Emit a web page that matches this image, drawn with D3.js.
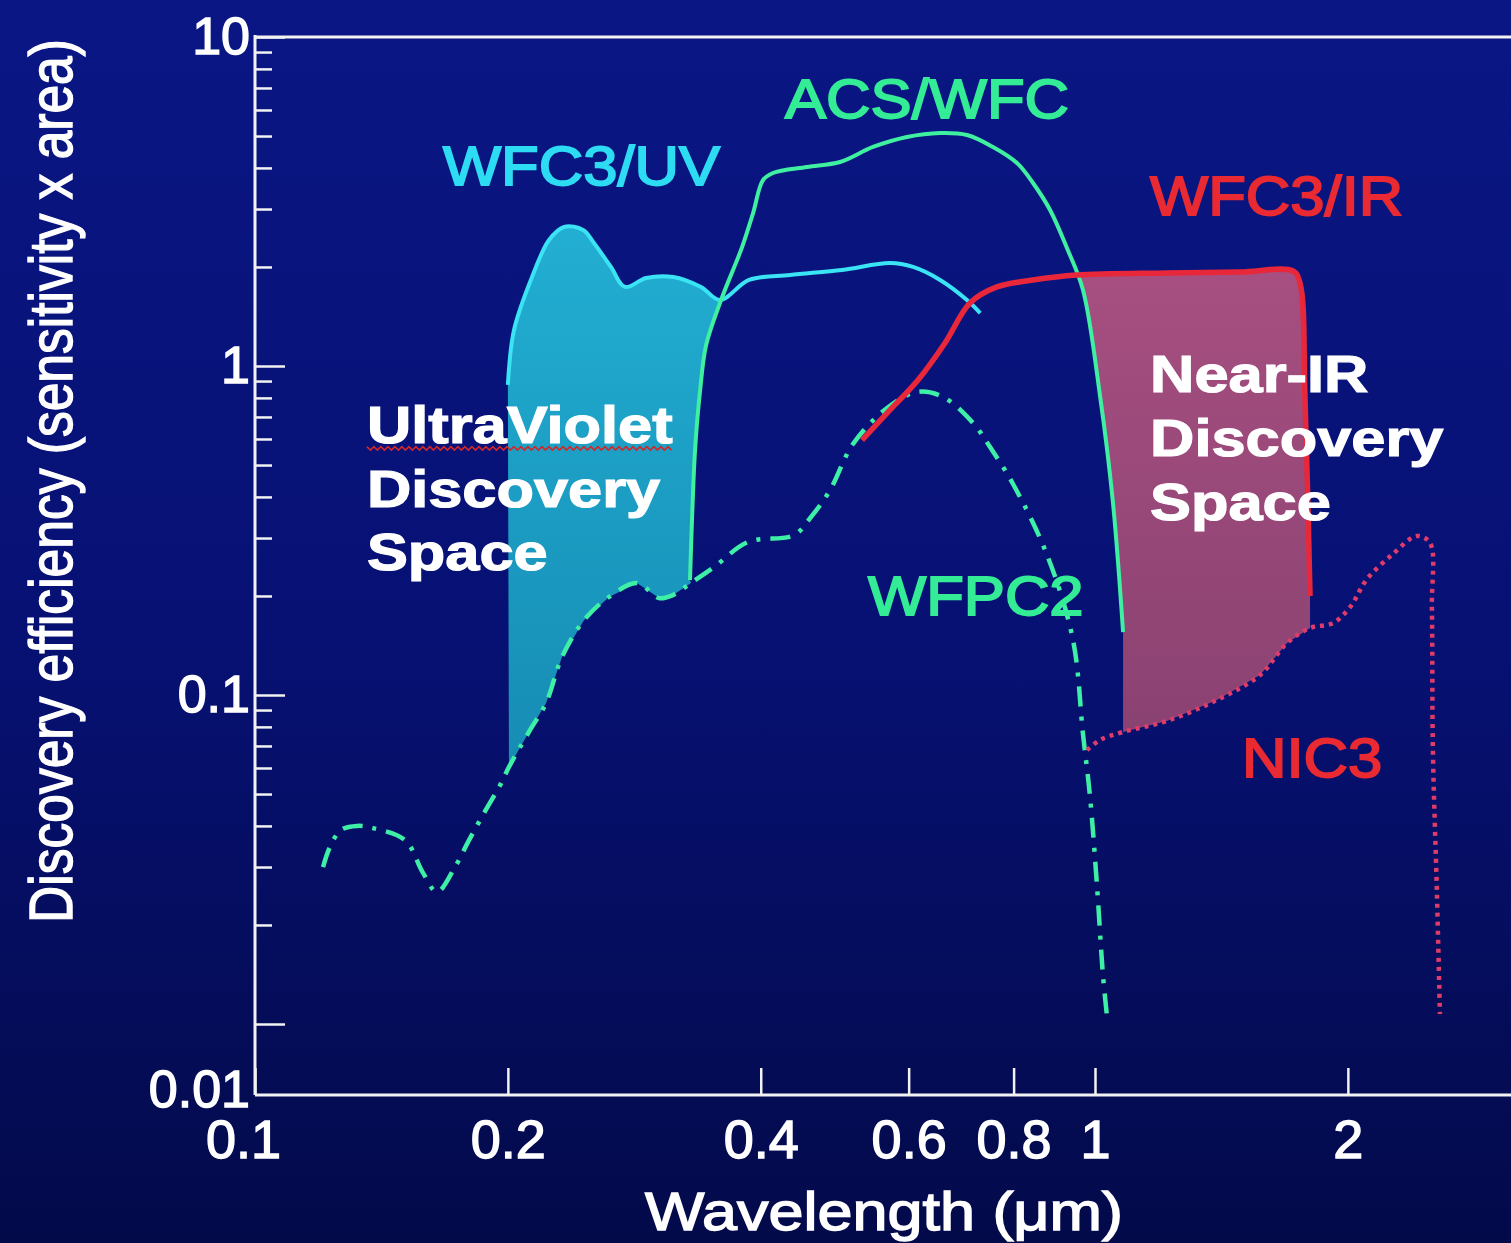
<!DOCTYPE html>
<html>
<head>
<meta charset="utf-8">
<script src="https://cdn.jsdelivr.net/npm/d3@7"></script>
<style>
html,body{margin:0;padding:0;background:#061070;}
svg{display:block;}
</style>
</head>
<body>
<svg id="chart"></svg>
<script>
// data: [wavelength (um), discovery efficiency]
const wfc3uv = [[0.200,0.876],[0.2034,1.286],[0.2137,1.865],[0.2239,2.415],[0.2333,2.646],[0.2458,2.591],
  [0.2532,2.365],[0.2653,2.0],[0.2757,1.739],[0.2922,1.851],[0.3146,1.865],[0.3396,1.739],[0.3578,1.587],
  [0.3874,1.826],[0.4335,1.891],[0.4998,1.958],[0.570,2.056],[0.6073,2.0],[0.654,1.826],[0.704,1.587],[0.730,1.449]];

const acswfc = [[0.3295,0.2236],[0.3313,0.340],[0.3341,0.5555],[0.3388,0.8455],[0.3444,1.158],[0.3588,1.587],
  [0.3801,2.30],[0.3917,2.917],[0.4026,3.675],[0.4137,3.861],[0.4541,4.025],[0.4971,4.169],[0.5441,4.631],
  [0.5972,4.966],[0.654,5.107],[0.704,5.036],[0.756,4.631],[0.8074,4.14],[0.8437,3.6],[0.8841,2.98],
  [0.926,2.284],[0.9676,1.702],[1.014,0.810],[1.05,0.3888],[1.08,0.1554]];

const wfc3ir = [[0.528,0.5956],[0.5655,0.7195],[0.6156,0.9066],[0.6629,1.175],[0.7099,1.554],[0.7641,1.739],
  [0.8437,1.826],[0.9519,1.891],[1.218,1.918],[1.488,1.931],[1.721,1.944],[1.754,1.788],[1.778,0.810],[1.803,0.2]];

const wfpc2 = [[0.1205,0.030],[0.1228,0.0345],[0.1266,0.0389],[0.1323,0.040],[0.1382,0.0394],[0.1509,0.0362],
  [0.1585,0.0288],[0.1647,0.0252],[0.1730,0.030],[0.1798,0.0362],[0.1874,0.0438],[0.1958,0.0532],[0.2006,0.0604],
  [0.2125,0.0782],[0.2221,0.0946],[0.232,0.1305],[0.2465,0.169],[0.2639,0.1986],[0.285,0.219],[0.3027,0.197],
  [0.3146,0.2014],[0.3304,0.219],[0.352,0.245],[0.3863,0.2917],[0.4383,0.3064],[0.4591,0.3476],[0.4838,0.42],
  [0.5151,0.5792],[0.5655,0.7454],[0.614,0.8337],[0.6594,0.805],[0.7158,0.671],[0.75,0.567],[0.7988,0.4379],
  [0.8769,0.2664],[0.9414,0.147],[0.9676,0.0761],[0.9863,0.0493],[1.0055,0.0263],[1.022,0.0141],[1.033,0.01065]];

const nic3 = [[0.9783,0.068],[1.014,0.073],[1.08,0.0772],[1.218,0.0834],[1.397,0.0966],[1.572,0.115],
  [1.693,0.1439],[1.803,0.1598],[1.92,0.1655],[2.012,0.185],[2.108,0.2252],[2.263,0.2683],[2.417,0.3043],
  [2.505,0.2897],[2.518,0.185],[2.525,0.068],[2.553,0.025],[2.574,0.01073]];

const xTicks = [0.1,0.2,0.4,0.6,0.8,1,2];
const xTickLabels = ['0.1','0.2','0.4','0.6','0.8','1','2'];
const yTicks = [0.01,0.1,1,10];
const yTickLabels = ['0.01','0.1','1','10'];

const seriesNames = ['WFC3/UV','ACS/WFC','WFC3/IR','WFPC2','NIC3'];
const uvText = ['UltraViolet','Discovery','Space'];
const irText = ['Near-IR','Discovery','Space'];

// layout //////////////////////////////
const width = 1511, height = 1243;
const plotLeft = 255, plotRight = 1511, plotTop = 37, plotBottom = 1095;
const font = '"Liberation Sans", Arial, sans-serif';

const svg = d3.select('#chart').attr('width', width).attr('height', height);

const x = d3.scaleLog().domain([0.1, 1]).range([plotLeft, 1095]);
const y = d3.scaleLog().domain([0.01, 10]).range([1024, plotTop]);

const defs = svg.append('defs');
const bg = defs.append('linearGradient').attr('id','bg').attr('x1',0).attr('y1',0).attr('x2',0).attr('y2',1);
bg.append('stop').attr('offset','0%').attr('stop-color','#0a1684');
bg.append('stop').attr('offset','50%').attr('stop-color','#071174');
bg.append('stop').attr('offset','100%').attr('stop-color','#030a4a');

const uvGrad = defs.append('linearGradient').attr('id','uvfill').attr('x1',0).attr('y1',0).attr('x2',0).attr('y2',1);
uvGrad.append('stop').attr('offset','0%').attr('stop-color','#22aed2');
uvGrad.append('stop').attr('offset','100%').attr('stop-color','#168cb4');

const irGrad = defs.append('linearGradient').attr('id','irfill').attr('x1',0).attr('y1',0).attr('x2',0).attr('y2',1);
irGrad.append('stop').attr('offset','0%').attr('stop-color','#a64f80');
irGrad.append('stop').attr('offset','100%').attr('stop-color','#8a4272');

svg.append('rect').attr('width', width).attr('height', height).attr('fill','url(#bg)');

// helpers
const line = d3.line().x(d => x(d[0])).y(d => y(d[1])).curve(d3.curveCatmullRom.alpha(0.5));
const poly = d3.line().x(d => x(d[0])).y(d => y(d[1]));

function stretch(sel, k) {
  sel.each(function() {
    const len = this.getComputedTextLength();
    d3.select(this).attr('textLength', len * k).attr('lengthAdjust','spacingAndGlyphs');
  });
}

// discovery-space fills ///////////////
const uvPoly = wfc3uv.filter(d => d[0] <= 0.358)
  .concat(acswfc.filter(d => d[0] <= 0.3588).reverse())
  .concat(wfpc2.filter(d => d[0] >= 0.2 && d[0] <= 0.3304).reverse());
svg.append('path').attr('d', poly(uvPoly) + 'Z').attr('fill','url(#uvfill)');

const irPoly = acswfc.filter(d => d[0] >= 0.96)
  .concat(nic3.filter(d => d[0] >= 1.08 && d[0] <= 1.803))
  .concat(wfc3ir.filter(d => d[0] >= 0.95).reverse());
svg.append('path').attr('d', poly(irPoly) + 'Z').attr('fill','url(#irfill)');

// axes ////////////////////////////////
const xAxis = svg.append('g').attr('transform', `translate(0,${plotBottom})`)
  .call(d3.axisBottom(x).tickValues(xTicks).tickFormat((d,i) => xTickLabels[i])
    .tickSizeInner(-27).tickSizeOuter(0).tickPadding(25));
xAxis.select('.domain').remove();
xAxis.selectAll('.tick text').filter(d => d === 0.1).attr('x', -12);

const yMinor = [];
[0.01, 0.1, 1].forEach(dec => { for (let k = 2; k <= 9; k++) yMinor.push(k * dec); });
const yMinorAxis = svg.append('g').attr('transform', `translate(${plotLeft},0)`)
  .call(d3.axisLeft(y).tickValues(yMinor).tickFormat('').tickSizeInner(-17).tickSizeOuter(0));
yMinorAxis.select('.domain').remove();

const yAxis = svg.append('g').attr('transform', `translate(${plotLeft},0)`)
  .call(d3.axisLeft(y).tickValues(yTicks).tickFormat((d,i) => yTickLabels[i])
    .tickSizeInner(-30).tickSizeOuter(0).tickPadding(5));
yAxis.select('.domain').remove();
yAxis.selectAll('.tick text').filter(d => d === 0.01).attr('y', 66);

svg.selectAll('.tick line').attr('stroke','#f2f2f2').attr('stroke-width',2.5);
svg.selectAll('.tick text').attr('fill','#ffffff').attr('stroke','#ffffff').attr('stroke-width',1.4)
  .style('font-family', font).style('font-size','54px');
yAxis.selectAll('.tick text').style('font-size','52px');

// frame lines
svg.append('line').attr('x1', plotLeft).attr('y1', plotTop - 2).attr('x2', plotLeft).attr('y2', plotBottom)
  .attr('stroke','#f2f2f2').attr('stroke-width',3);
svg.append('line').attr('x1', plotLeft).attr('y1', plotBottom).attr('x2', plotRight).attr('y2', plotBottom)
  .attr('stroke','#f2f2f2').attr('stroke-width',3);
svg.append('line').attr('x1', plotLeft).attr('y1', plotTop).attr('x2', plotRight).attr('y2', plotTop)
  .attr('stroke','#f2f2f2').attr('stroke-width',3);

// curves //////////////////////////////
svg.append('path').attr('d', line(wfpc2)).attr('fill','none')
  .attr('stroke','#3ef0a6').attr('stroke-width',4.5).attr('stroke-dasharray','20,10,4,10');
svg.append('path').attr('d', line(nic3)).attr('fill','none')
  .attr('stroke','#e03c6a').attr('stroke-width',4.5).attr('stroke-dasharray','4,5');
svg.append('path').attr('d', line(wfc3uv)).attr('fill','none')
  .attr('stroke','#3ae4f4').attr('stroke-width',4);
svg.append('path').attr('d', line(acswfc)).attr('fill','none')
  .attr('stroke','#3ef0a0').attr('stroke-width',4);
svg.append('path').attr('d', line(wfc3ir)).attr('fill','none')
  .attr('stroke','#e8283a').attr('stroke-width',5.5);

// series labels ///////////////////////
const labelAnchors = [[0.1674,3.549],[0.4275,5.674],[1.163,2.877],[0.5368,0.175],[1.496,0.0563]];
const labelColors = ['#2ddcf2','#34ec96','#ea2a32','#34ec96','#ea2a32'];
svg.selectAll('.series-label').data(seriesNames).enter()
  .append('text').attr('class','series-label')
  .text(d => d)
  .attr('x', (d,i) => x(labelAnchors[i][0]))
  .attr('y', (d,i) => y(labelAnchors[i][1]))
  .attr('fill', (d,i) => labelColors[i])
  .attr('stroke', (d,i) => labelColors[i]).attr('stroke-width',1.8)
  .style('font-family', font).style('font-size','55px')
  .call(stretch, 1.12);

// discovery space text
const uvAnchor = [0.1359, [0.583, 0.3727, 0.2399]];
const irAnchor = [1.163, [0.834, 0.5326, 0.3403]];
const uvLabel = svg.selectAll('.uv-text').data(uvText).enter()
  .append('text').attr('class','uv-text').text(d => d)
  .attr('x', x(uvAnchor[0])).attr('y', (d,i) => y(uvAnchor[1][i]));
const irLabel = svg.selectAll('.ir-text').data(irText).enter()
  .append('text').attr('class','ir-text').text(d => d)
  .attr('x', x(irAnchor[0])).attr('y', (d,i) => y(irAnchor[1][i]));
[uvLabel, irLabel].forEach(s => s.attr('fill','#ffffff').attr('stroke','#ffffff').attr('stroke-width',1.2)
  .style('font-family', font).style('font-size','52px').style('font-weight','bold').call(stretch, 1.18));

// spell-check squiggle under "UltraViolet"
const ub = uvLabel.filter((d,i) => i === 0).node().getBBox();
const squiggle = d3.range(ub.x, ub.x + ub.width, 3.5).map((px, i) => [px, y(uvAnchor[1][0]) + 5 + (i % 2 ? 2 : -1.5)]);
svg.append('path').attr('d', d3.line()(squiggle)).attr('fill','none')
  .attr('stroke','#d02828').attr('stroke-width',1.6);

// axis titles /////////////////////////
svg.append('text').text('Wavelength (μm)')
  .attr('x', 884).attr('y', 1230).attr('text-anchor','middle')
  .attr('fill','#ffffff').attr('stroke','#ffffff').attr('stroke-width',1.4)
  .style('font-family', font).style('font-size','54px')
  .attr('textLength', 478).attr('lengthAdjust','spacingAndGlyphs');

// y title: narrow glyphs, sized so it fits the axis height, then stretched across
const yTitle = svg.append('text').text('Discovery efficiency (sensitivity x area)')
  .attr('text-anchor','middle')
  .attr('fill','#ffffff').attr('stroke','#ffffff').attr('stroke-width',1.2)
  .style('font-family', font).style('font-size','62px');
const natural = yTitle.node().getComputedTextLength();
const fitSize = 62 * 884 / natural;
yTitle.style('font-size', fitSize + 'px')
  .attr('transform', `translate(72,481) rotate(-90) scale(1,${62 / fitSize})`);
</script>
</body>
</html>
